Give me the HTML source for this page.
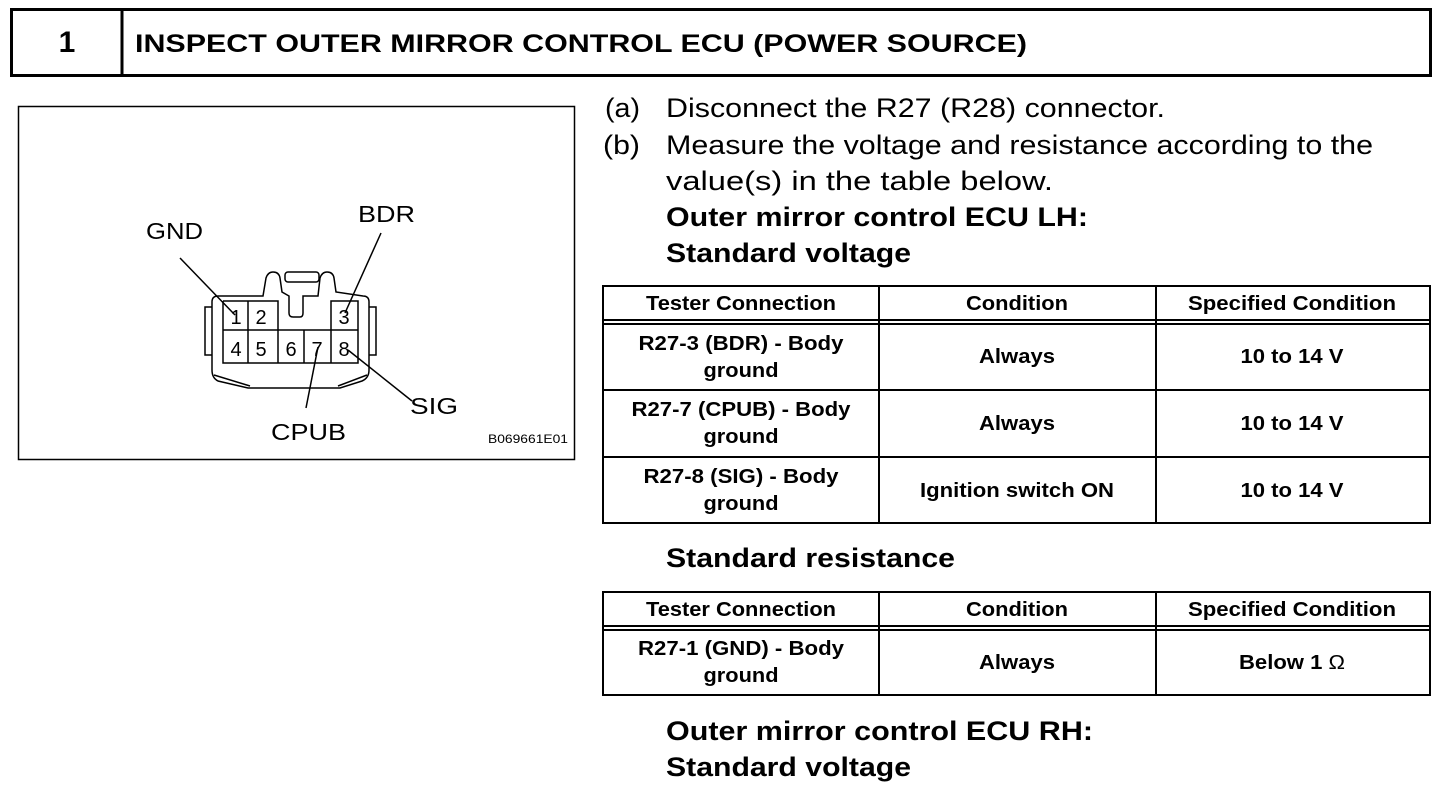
<!DOCTYPE html>
<html><head><meta charset="utf-8"><style>
html,body{margin:0;padding:0;background:#fff;}
svg{display:block;font-family:"Liberation Sans",Arial,sans-serif;}
</style></head><body>
<svg width="1456" height="786" viewBox="0 0 1456 786" xmlns="http://www.w3.org/2000/svg">
<!-- header -->
<rect x="11.5" y="9.5" width="1419" height="66" fill="none" stroke="#000" stroke-width="3"/>
<line x1="122" y1="9" x2="122" y2="76" stroke="#000" stroke-width="3"/>
<text x="67" y="52" font-size="30" font-weight="bold" text-anchor="middle">1</text>
<text x="135" y="52" font-size="25" font-weight="bold" textLength="892" lengthAdjust="spacingAndGlyphs">INSPECT OUTER MIRROR CONTROL ECU (POWER SOURCE)</text>

<!-- picture box -->
<rect x="18.5" y="106.5" width="556" height="353" fill="none" stroke="#000" stroke-width="1.5"/>
<g fill="none" stroke="#000" stroke-width="1.5">
  <path d="M212,302 Q212,296 218,296 L263,296 L266,278 Q268,272 273,272 Q279,272 280,278 L282,292 L289,296 L289,313 Q289,317 293,317 L300,317 Q303,317 303,313 L303,296 L318,296 L320,278 Q322,272 327,272 Q333,272 334,278 L336,292 L363,296 Q369,296 369,302 L369,370 Q369,378 362,381 L340,388 L248,388 L218,381 Q212,378 212,370 Z"/>
  <rect x="285" y="272" width="34" height="10" rx="3"/>
  <path d="M212,307 L205,307 L205,355 L212,355"/>
  <path d="M369,307 L376,307 L376,355 L369,355"/>
  <path d="M214,375 L250,386"/>
  <path d="M367,375 L338,386"/>
  <path d="M223,301 L278,301 L278,330 M223,301 L223,363 L358,363 L358,301 L331,301 L331,330 M223,330 L358,330 M248,301 L248,363 M278,330 L278,363 M304,330 L304,363 M331,330 L331,363"/>
</g>
<g font-size="20" text-anchor="middle">
<text x="236" y="324">1</text><text x="261" y="324">2</text><text x="344" y="324">3</text>
<text x="236" y="356">4</text><text x="261" y="356">5</text><text x="291" y="356">6</text><text x="317" y="356">7</text><text x="344" y="356">8</text>
</g>
<g stroke="#000" stroke-width="1.5">
<line x1="180" y1="258" x2="235" y2="315"/>
<line x1="381" y1="233" x2="345" y2="313"/>
<line x1="318" y1="347" x2="306" y2="408"/>
<line x1="348" y1="350" x2="412" y2="401"/>
</g>
<g font-size="23">
<text x="146" y="239" textLength="57" lengthAdjust="spacingAndGlyphs">GND</text>
<text x="358" y="222" textLength="57" lengthAdjust="spacingAndGlyphs">BDR</text>
<text x="410" y="414" textLength="48" lengthAdjust="spacingAndGlyphs">SIG</text>
<text x="271" y="440" textLength="75" lengthAdjust="spacingAndGlyphs">CPUB</text>
</g>
<text x="488" y="443" font-size="12" textLength="80" lengthAdjust="spacingAndGlyphs">B069661E01</text>

<!-- right text -->
<g font-size="27">
<text x="605" y="117" textLength="35" lengthAdjust="spacingAndGlyphs">(a)</text><text x="666" y="117" textLength="499" lengthAdjust="spacingAndGlyphs">Disconnect the R27 (R28) connector.</text>
<text x="603" y="154" textLength="37" lengthAdjust="spacingAndGlyphs">(b)</text><text x="666" y="154" textLength="707" lengthAdjust="spacingAndGlyphs">Measure the voltage and resistance according to the</text>
<text x="666" y="190" textLength="387" lengthAdjust="spacingAndGlyphs">value(s) in the table below.</text>
</g>
<g font-size="27" font-weight="bold">
<text x="666" y="226" textLength="422" lengthAdjust="spacingAndGlyphs">Outer mirror control ECU LH:</text>
<text x="666" y="262" textLength="245" lengthAdjust="spacingAndGlyphs">Standard voltage</text>
<text x="666" y="567" textLength="289" lengthAdjust="spacingAndGlyphs">Standard resistance</text>
<text x="666" y="740" textLength="427" lengthAdjust="spacingAndGlyphs">Outer mirror control ECU RH:</text>
<text x="666" y="776" textLength="245" lengthAdjust="spacingAndGlyphs">Standard voltage</text>
</g>

<!-- table 1 -->
<g fill="none" stroke="#000" stroke-width="2">
<rect x="603" y="286" width="827" height="237"/>
<line x1="879" y1="286" x2="879" y2="523"/><line x1="1156" y1="286" x2="1156" y2="523"/>
<line x1="603" y1="320" x2="1430" y2="320"/><line x1="603" y1="324" x2="1430" y2="324"/>
<line x1="603" y1="390" x2="1430" y2="390"/><line x1="603" y1="457" x2="1430" y2="457"/>
</g>
<g font-size="20" font-weight="bold" text-anchor="middle" lengthAdjust="spacingAndGlyphs">
<text x="741" y="310" textLength="190" lengthAdjust="spacingAndGlyphs">Tester Connection</text><text x="1017" y="310" textLength="102" lengthAdjust="spacingAndGlyphs">Condition</text><text x="1292" y="310" textLength="208" lengthAdjust="spacingAndGlyphs">Specified Condition</text>
<text x="741" y="350" textLength="205" lengthAdjust="spacingAndGlyphs">R27-3 (BDR) - Body</text><text x="741" y="377" textLength="75" lengthAdjust="spacingAndGlyphs">ground</text>
<text x="1017" y="363" textLength="76" lengthAdjust="spacingAndGlyphs">Always</text><text x="1292" y="363" textLength="103" lengthAdjust="spacingAndGlyphs">10 to 14 V</text>
<text x="741" y="416" textLength="219" lengthAdjust="spacingAndGlyphs">R27-7 (CPUB) - Body</text><text x="741" y="443" textLength="75" lengthAdjust="spacingAndGlyphs">ground</text>
<text x="1017" y="430" textLength="76" lengthAdjust="spacingAndGlyphs">Always</text><text x="1292" y="430" textLength="103" lengthAdjust="spacingAndGlyphs">10 to 14 V</text>
<text x="741" y="483" textLength="195" lengthAdjust="spacingAndGlyphs">R27-8 (SIG) - Body</text><text x="741" y="510" textLength="75" lengthAdjust="spacingAndGlyphs">ground</text>
<text x="1017" y="497" textLength="194" lengthAdjust="spacingAndGlyphs">Ignition switch ON</text><text x="1292" y="497" textLength="103" lengthAdjust="spacingAndGlyphs">10 to 14 V</text>
</g>

<!-- table 2 -->
<g fill="none" stroke="#000" stroke-width="2">
<rect x="603" y="592" width="827" height="103"/>
<line x1="879" y1="592" x2="879" y2="695"/><line x1="1156" y1="592" x2="1156" y2="695"/>
<line x1="603" y1="626" x2="1430" y2="626"/><line x1="603" y1="630" x2="1430" y2="630"/>
</g>
<g font-size="20" font-weight="bold" text-anchor="middle">
<text x="741" y="616" textLength="190" lengthAdjust="spacingAndGlyphs">Tester Connection</text><text x="1017" y="616" textLength="102" lengthAdjust="spacingAndGlyphs">Condition</text><text x="1292" y="616" textLength="208" lengthAdjust="spacingAndGlyphs">Specified Condition</text>
<text x="741" y="655" textLength="206" lengthAdjust="spacingAndGlyphs">R27-1 (GND) - Body</text><text x="741" y="682" textLength="75" lengthAdjust="spacingAndGlyphs">ground</text>
<text x="1017" y="669" textLength="76" lengthAdjust="spacingAndGlyphs">Always</text><text x="1292" y="669" textLength="106" lengthAdjust="spacingAndGlyphs">Below 1 <tspan font-weight="normal">Ω</tspan></text>
</g>
</svg>
</body></html>
